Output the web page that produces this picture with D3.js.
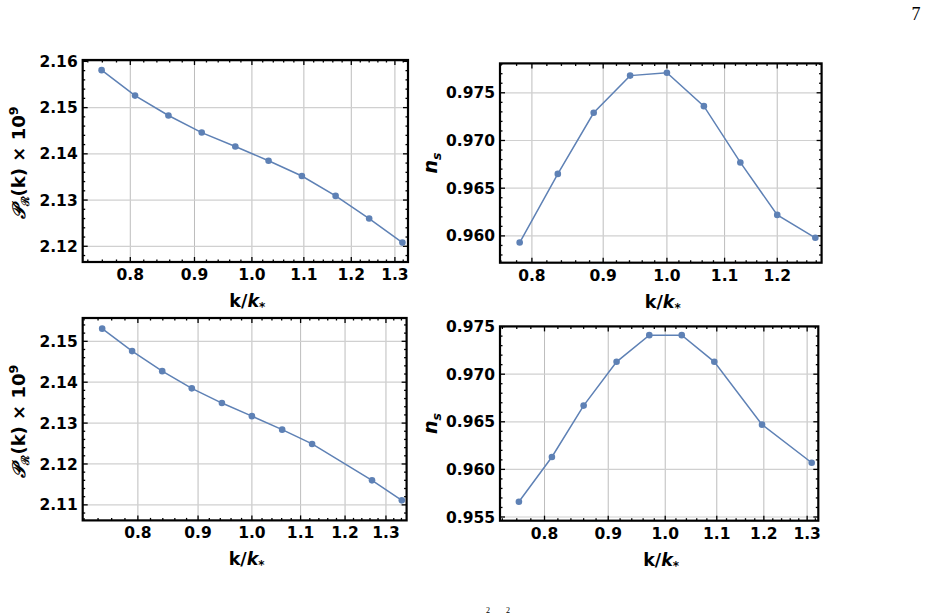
<!DOCTYPE html>
<html>
<head>
<meta charset="utf-8">
<script src="https://cdn.jsdelivr.net/npm/d3@7"></script>
<style>
  body { margin: 0; background: #fff; }
  svg { display: block; }
</style>
</head>
<body>
<script>
// top-left panel: P_R(k) x 10^9
const kA = [0.759, 0.807, 0.858, 0.912, 0.970, 1.031, 1.096, 1.166, 1.240, 1.318]
const pA = [2.1581, 2.1526, 2.1483, 2.1446, 2.1416, 2.1385, 2.1352, 2.1309, 2.1260, 2.1208]
// top-right panel: n_s
const kB = [0.784, 0.835, 0.886, 0.941, 1.000, 1.063, 1.129, 1.200, 1.278]
const nB = [0.9593, 0.9665, 0.9729, 0.9768, 0.9771, 0.9736, 0.9677, 0.9622, 0.9598]
// bottom-left panel: P_R(k) x 10^9
const kC = [0.746, 0.791, 0.839, 0.889, 0.943, 1.000, 1.061, 1.125, 1.265, 1.341]
const pC = [2.1531, 2.1476, 2.1427, 2.1385, 2.1349, 2.1317, 2.1284, 2.1249, 2.1160, 2.1111]
// bottom-right panel: n_s
const kD = [0.763, 0.811, 0.860, 0.914, 0.971, 1.031, 1.095, 1.196, 1.311]
const nD = [0.9566, 0.9613, 0.9667, 0.9713, 0.9741, 0.9741, 0.9713, 0.9647, 0.9607]

// tick labels
const xTicks = [0.8, 0.9, 1.0, 1.1, 1.2, 1.3]
const pTicks = [2.11, 2.12, 2.13, 2.14, 2.15, 2.16]
const nTicks = [0.955, 0.960, 0.965, 0.970, 0.975]

const W = 928, H = 614
const blue = '#5e81b5'
const font = '"DejaVu Sans", sans-serif'

const panels = [
  {k: kA, v: pA, box: [82.7, 408, 60, 262], xd: [0.7331, 1.3316], yd: [2.1166, 2.1603], yt: pTicks, fmt: '.2f', minor: 0.002, kind: 'P'},
  {k: kB, v: nB, box: [500, 821.6, 63.4, 262.7], xd: [0.7589, 1.2913], yd: [0.95719, 0.97808], yt: nTicks, fmt: '.3f', minor: 0.001, kind: 'n'},
  {k: kC, v: pC, box: [82.7, 406.6, 318, 520.4], xd: [0.7181, 1.3536], yd: [2.1062, 2.1557], yt: pTicks, fmt: '.2f', minor: 0.002, kind: 'P'},
  {k: kD, v: nD, box: [500, 818.3, 326.4, 520.7], xd: [0.7368, 1.3271], yd: [0.95461, 0.97502], yt: nTicks, fmt: '.3f', minor: 0.001, kind: 'n'}
]

const svg = d3.select('body').append('svg')
  .attr('width', W)
  .attr('height', H)
  .attr('viewBox', `0 0 ${W} ${H}`)

// page number and the superscripts peeking in from the next line
svg.append('text').attr('x', 916).attr('y', 20).attr('text-anchor', 'middle')
  .style('font-family', '"Liberation Serif", serif').style('font-size', '18px').text('7')
svg.append('text').attr('x', 488).attr('y', 613).attr('text-anchor', 'middle')
  .style('font-family', '"Liberation Serif", serif').style('font-size', '8px').text('2')
svg.append('text').attr('x', 508).attr('y', 613).attr('text-anchor', 'middle')
  .style('font-family', '"Liberation Serif", serif').style('font-size', '8px').text('2')

panels.forEach(function(p) {
  const [x0, x1, y0, y1] = p.box
  const x = d3.scaleLog().domain(p.xd).range([x0, x1])
  const y = d3.scaleLinear().domain(p.yd).range([y1, y0])
  const g = svg.append('g')

  const xMajor = xTicks.filter(d => d >= p.xd[0] && d <= p.xd[1])
  const xMinor = d3.range(35, 69).map(i => i * 0.02).filter(d => d >= p.xd[0] && d <= p.xd[1])
  const yMajor = p.yt.filter(d => d >= p.yd[0] && d <= p.yd[1])
  const yMinor = d3.range(Math.ceil(p.yd[0] / p.minor), Math.floor(p.yd[1] / p.minor) + 1).map(i => i * p.minor)

  // grid
  g.selectAll('.gx').data(xMajor).join('line')
    .attr('x1', d => x(d)).attr('x2', d => x(d)).attr('y1', y0).attr('y2', y1)
    .attr('stroke', '#bdbdbd').attr('stroke-width', 1)
  g.selectAll('.gy').data(yMajor).join('line')
    .attr('y1', d => y(d)).attr('y2', d => y(d)).attr('x1', x0).attr('x2', x1)
    .attr('stroke', '#d0d0d0').attr('stroke-width', 1.2)

  // frame ticks, pointing inward on all four sides
  const tk = g.append('g').attr('stroke', '#000')
  xMinor.forEach(function(d) {
    const L = xMajor.some(m => Math.abs(m - d) < 1e-6) ? 5 : 2.5
    tk.append('line').attr('x1', x(d)).attr('x2', x(d)).attr('y1', y1).attr('y2', y1 - L).attr('stroke-width', 1.3)
    tk.append('line').attr('x1', x(d)).attr('x2', x(d)).attr('y1', y0).attr('y2', y0 + L).attr('stroke-width', 1.3)
  })
  yMinor.forEach(function(d) {
    const L = yMajor.some(m => Math.abs(m - d) < 1e-7) ? 5 : 2.5
    tk.append('line').attr('y1', y(d)).attr('y2', y(d)).attr('x1', x0).attr('x2', x0 + L).attr('stroke-width', 1.3)
    tk.append('line').attr('y1', y(d)).attr('y2', y(d)).attr('x1', x1).attr('x2', x1 - L).attr('stroke-width', 1.3)
  })

  g.append('rect')
    .attr('x', x0).attr('y', y0).attr('width', x1 - x0).attr('height', y1 - y0)
    .attr('fill', 'none').attr('stroke', '#000').attr('stroke-width', 2.2)

  // tick labels
  g.selectAll('.xl').data(xMajor).join('text')
    .attr('x', d => x(d)).attr('y', y1 + 18).attr('text-anchor', 'middle')
    .style('font-family', font).style('font-weight', 'bold').style('font-size', '15.5px')
    .text(d => d3.format('.1f')(d))
  g.selectAll('.yl').data(yMajor).join('text')
    .attr('x', x0 - 5).attr('y', d => y(d)).attr('dy', '0.36em').attr('text-anchor', 'end')
    .style('font-family', font).style('font-weight', 'bold').style('font-size', '15.5px')
    .text(d => d3.format(p.fmt)(d))

  // data
  const pts = p.k.map((k, i) => [k, p.v[i]])
  g.append('path').datum(pts)
    .attr('fill', 'none').attr('stroke', blue).attr('stroke-width', 1.5)
    .attr('d', d3.line().x(d => x(d[0])).y(d => y(d[1])))
  g.selectAll('.pt').data(pts).join('circle')
    .attr('cx', d => x(d[0])).attr('cy', d => y(d[1])).attr('r', 3.3).attr('fill', blue)

  // x title: k/k_*
  const xt = g.append('text').attr('x', (x0 + x1) / 2 + 2).attr('y', y1 + 45).attr('text-anchor', 'middle')
    .style('font-family', font).style('font-weight', 'bold').style('font-size', '17.5px')
  xt.append('tspan').text('k/')
  xt.append('tspan').style('font-style', 'italic').text('k')
  xt.append('tspan').attr('dy', 4).style('font-size', '12px').style('font-style', 'italic').text('*')

  // y title
  if (p.kind === 'P') {
    const yt = g.append('text')
      .attr('transform', `translate(${x0 - 58},${(y0 + y1) / 2 + 2}) rotate(-90)`)
      .attr('text-anchor', 'middle')
      .style('font-family', font).style('font-weight', 'bold').style('font-size', '18px')
    yt.append('tspan').style('font-family', '"DejaVu Serif", serif').style('font-style', 'italic').text('𝒫')
    yt.append('tspan').attr('dy', 4).style('font-size', '11px').style('font-family', '"DejaVu Serif", serif').text('ℛ')
    yt.append('tspan').attr('dy', -4).text('(k) × 10')
    yt.append('tspan').attr('dy', -7).style('font-size', '12.5px').text('9')
  } else {
    const yt = g.append('text')
      .attr('transform', `translate(${x0 - 63},${(y0 + y1) / 2}) rotate(-90)`)
      .attr('text-anchor', 'middle')
      .style('font-family', font).style('font-weight', 'bold').style('font-size', '19px').style('font-style', 'italic')
    yt.append('tspan').text('n')
    yt.append('tspan').attr('dy', 4).style('font-size', '12.5px').text('s')
  }
})
</script>
</body>
</html>
